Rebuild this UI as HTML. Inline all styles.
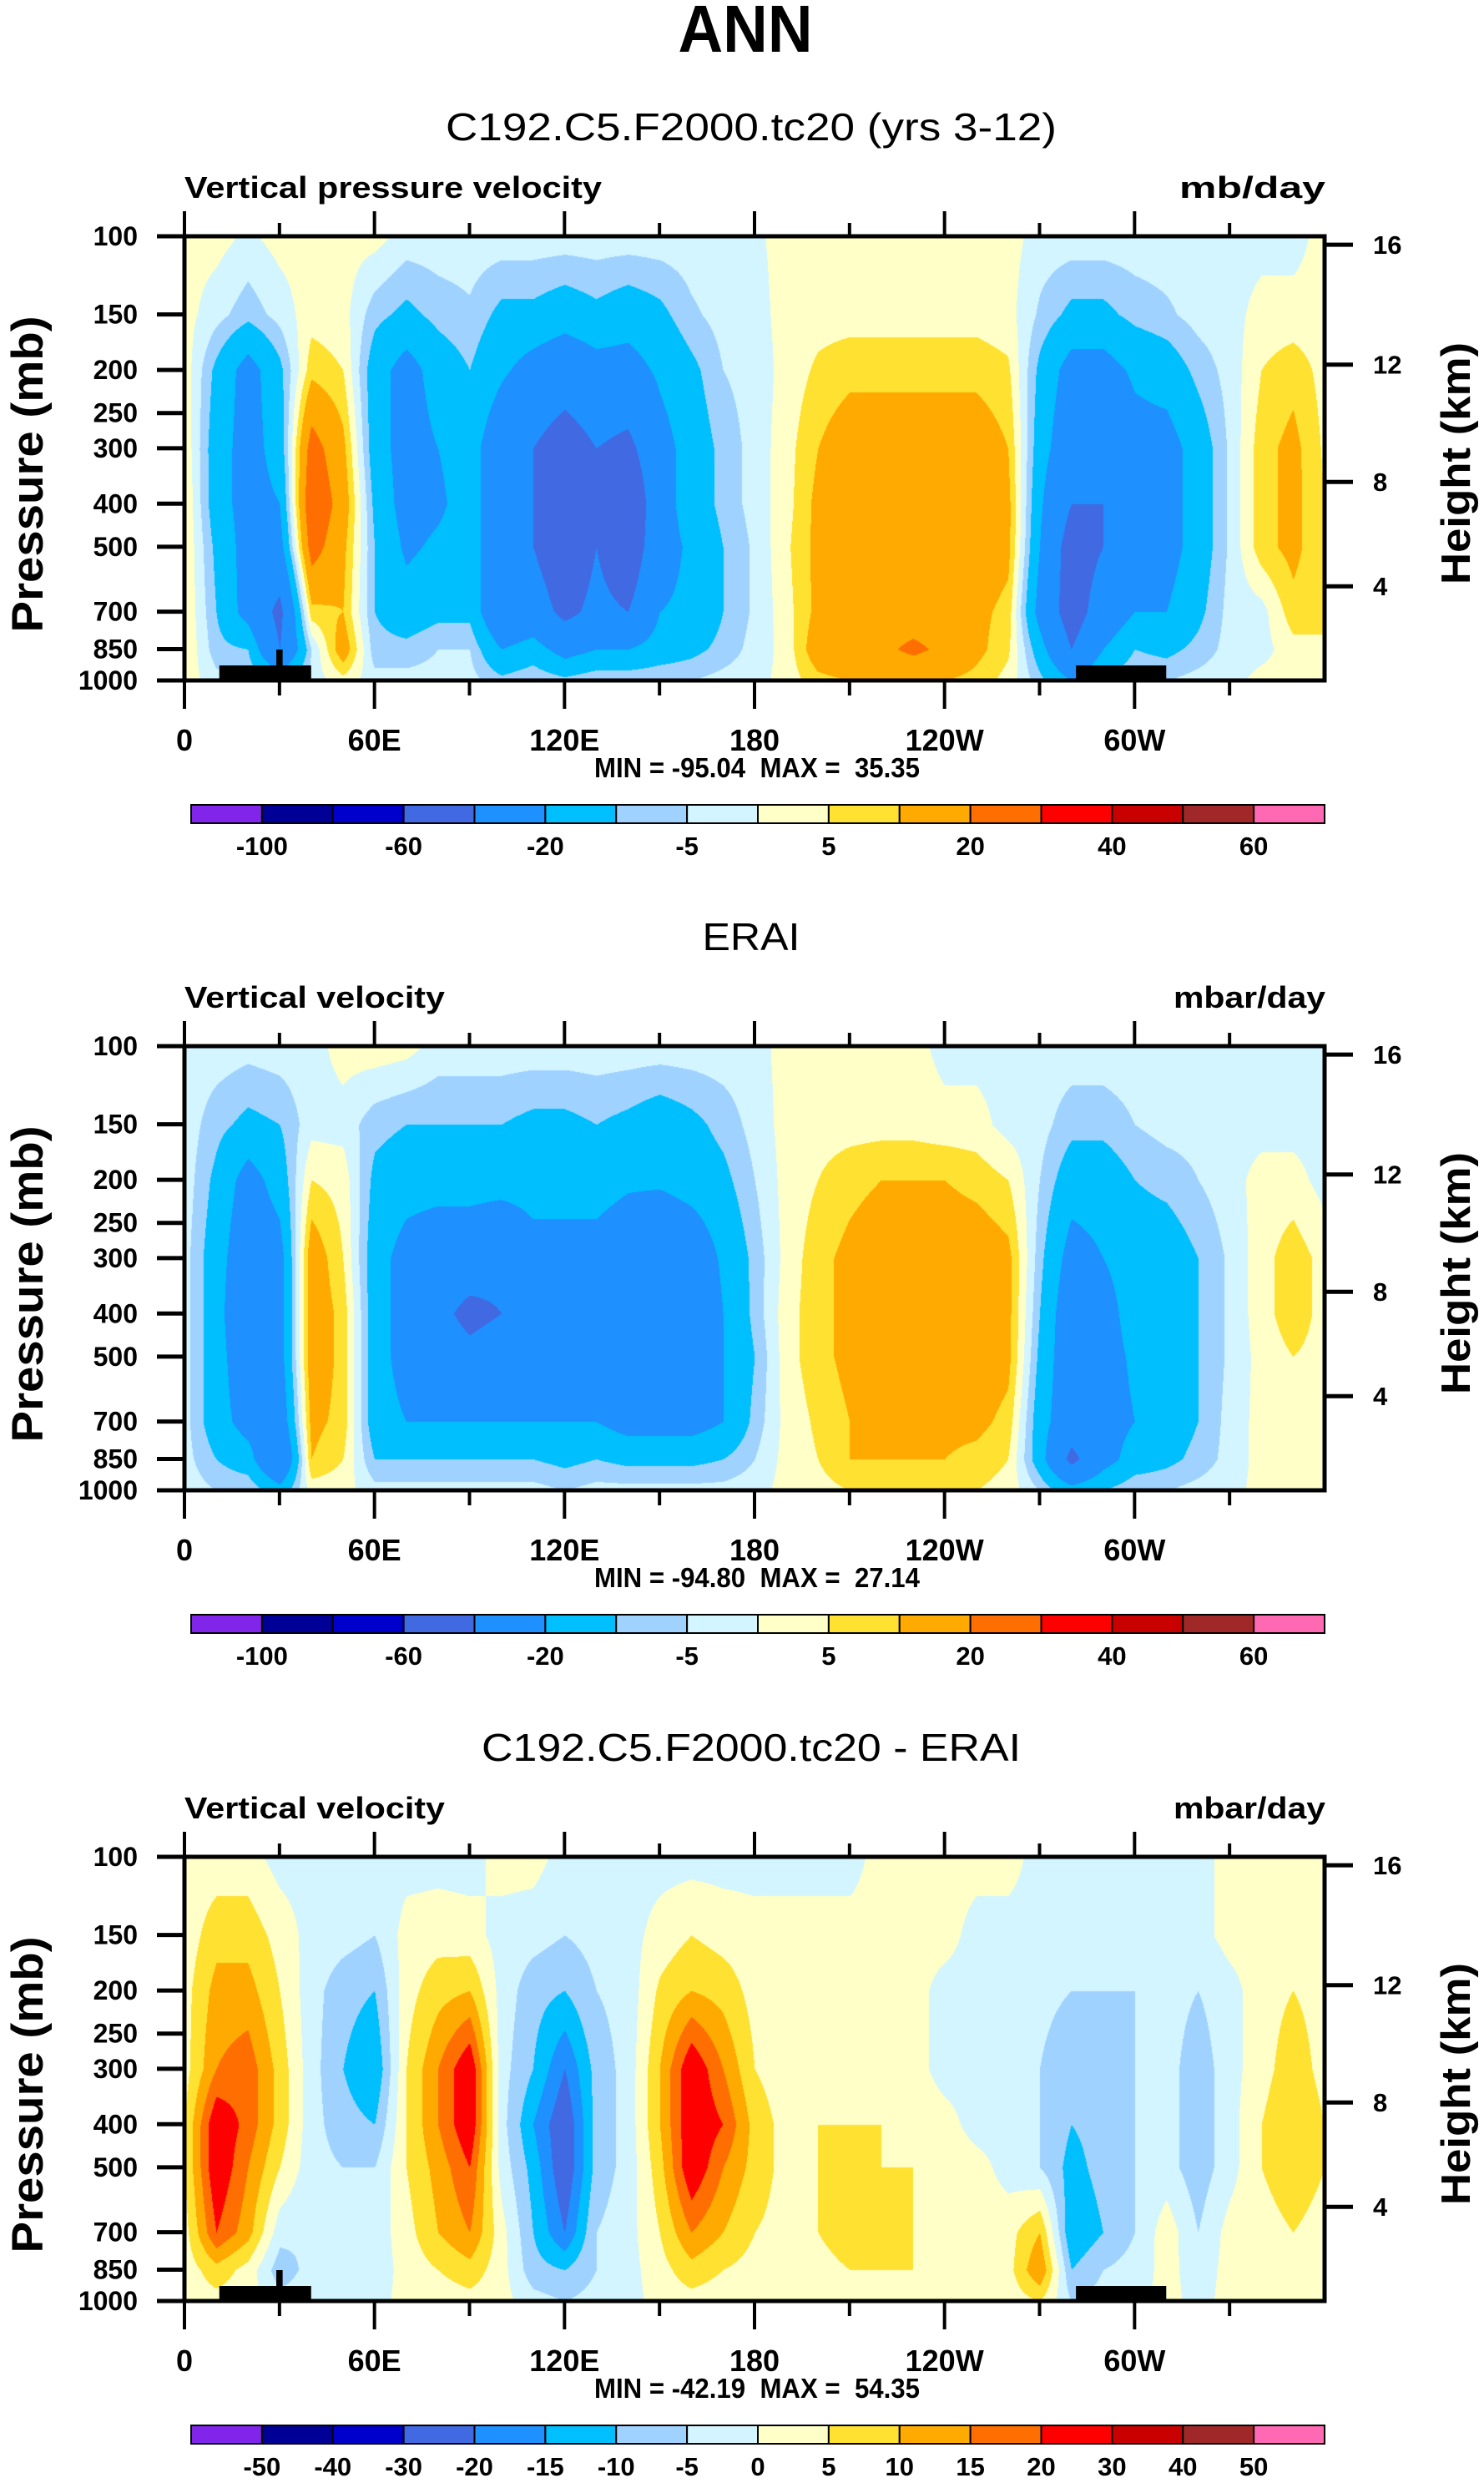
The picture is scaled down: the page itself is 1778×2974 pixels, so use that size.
<!DOCTYPE html>
<html><head><meta charset="utf-8">
<style>
html,body{margin:0;padding:0;background:#fff;}
#wrap{position:relative;width:1778px;height:2974px;overflow:hidden;background:#fff;}
canvas{position:absolute;}
svg{position:absolute;left:0;top:0;}
text{font-family:"Liberation Sans",sans-serif;fill:#000;white-space:pre;}
</style></head>
<body>
<div id="wrap">
<canvas id="c0" width="1366" height="532" style="left:221px;top:283px"></canvas>
<canvas id="c1" width="1366" height="532" style="left:221px;top:1253px"></canvas>
<canvas id="c2" width="1366" height="532" style="left:221px;top:2224px"></canvas>
<svg id="s" width="1778" height="2974" xmlns="http://www.w3.org/2000/svg"></svg>
</div>
<script>
// ---- data ----
const LEVELS = [100,150,200,300,400,500,700,850,1000];
const LONS = [0,10,20,30,40,50,60,70,80,90,100,110,120,130,140,150,160,170,180,190,200,210,220,230,240,250,260,270,280,290,300,310,320,330,340,350,360];
const FIELD_MODEL = [
[2,2,-1,2,2,2,2,-2,-2,-2,-2,-2,-2,-2,-2,-2,-2,-2,-1,2,2,2,2,2,2,2,2,-2,-2,-2,-2,-2,-2,-2,-2,-2,2],
[2,-3,-8,-3,3,2,-8,-12,-8,-6,-12,-12,-15,-12,-15,-12,-6,-3,-2,2,3,3,3,3,3,3,2,-6,-12,-12,-8,-6,-3,-2,2,2,2],
[3,-12,-25,-12,8,5,-15,-25,-15,-10,-18,-25,-30,-25,-25,-18,-12,-5,-3,2,6,8,8,8,8,8,6,-12,-25,-25,-18,-15,-8,-3,5,8,3],
[4,-15,-25,-15,25,12,-15,-25,-20,-15,-30,-40,-50,-40,-45,-25,-15,-8,-3,3,10,15,15,15,15,15,10,-15,-30,-35,-25,-25,-15,-4,8,12,4],
[5,-15,-25,-20,30,15,-12,-25,-22,-15,-30,-40,-55,-40,-60,-25,-15,-8,-3,3,12,15,15,15,15,15,12,-18,-40,-40,-25,-25,-15,-4,8,12,5],
[5,-12,-25,-25,25,12,-10,-22,-18,-15,-30,-40,-55,-40,-55,-25,-18,-10,-4,4,12,15,15,15,15,15,12,-20,-50,-40,-25,-25,-15,-4,8,12,5],
[5,-10,-25,-45,8,10,-10,-15,-12,-12,-35,-30,-45,-35,-40,-20,-18,-10,-4,3,12,15,15,15,15,12,8,-25,-50,-30,-20,-20,-12,-3,-2,8,5],
[5,-8,-10,-40,-5,15,-8,-8,-5,-5,-20,-15,-25,-20,-20,-15,-12,-8,-3,2,15,18,18,22,18,12,6,-15,-40,-20,-10,-12,-8,-3,-2,3,5],
[3,-3,-5,-10,-3,3,-3,-3,-3,-3,-8,-5,-8,-5,-5,-5,-5,-3,-2,2,8,10,10,12,10,8,3,-8,-20,-8,-5,-5,-3,-2,2,2,3]];
const FIELD_ERAI = [
[-2,-2,-3,-2,-2,2,3,2,-2,-2,-2,-2,-2,-2,-2,-2,-2,-2,-2,2,3,3,3,2,-2,-2,-2,-2,-2,-2,-2,-2,-2,-2,-2,-2,-2],
[-2,-8,-12,-10,-2,-2,-8,-10,-10,-10,-10,-12,-12,-10,-12,-15,-12,-8,-3,2,3,3,3,3,2,2,-2,-3,-8,-8,-5,-3,-3,-2,-2,-2,-2],
[-2,-12,-25,-15,5,3,-12,-15,-15,-15,-15,-15,-15,-15,-18,-18,-15,-12,-5,2,5,8,10,10,10,8,5,-5,-15,-15,-10,-8,-5,-2,2,2,-2],
[-3,-15,-30,-25,15,5,-15,-25,-30,-30,-35,-25,-25,-25,-30,-35,-30,-18,-8,2,8,12,15,15,15,15,12,-8,-25,-20,-15,-15,-10,-4,3,8,3],
[-3,-15,-35,-25,15,8,-15,-25,-35,-45,-40,-25,-25,-30,-35,-40,-35,-20,-8,3,8,12,15,15,15,15,12,-10,-30,-25,-15,-15,-10,-4,3,8,3],
[-3,-15,-30,-25,15,8,-15,-25,-30,-35,-30,-25,-25,-30,-35,-40,-30,-20,-10,3,8,12,15,15,15,15,12,-12,-30,-25,-18,-15,-10,-4,2,5,3],
[-3,-15,-25,-30,12,8,-15,-20,-20,-20,-20,-20,-20,-20,-25,-25,-25,-20,-8,2,6,10,12,12,12,12,8,-15,-30,-25,-20,-15,-10,-3,2,3,2],
[-3,-10,-15,-40,10,5,-10,-10,-10,-10,-10,-10,-12,-10,-12,-12,-12,-10,-5,2,5,10,10,10,10,8,5,-15,-45,-25,-15,-12,-8,-3,2,3,2],
[-2,-5,-5,-15,2,2,-3,-3,-3,-3,-3,-3,-5,-3,-3,-3,-3,-3,-2,2,3,5,5,5,5,5,3,-5,-15,-10,-5,-5,-3,-2,2,2,2]];
const FIELD_DIFF = [
[2,2,2,-2,-2,-2,-2,-2,-2,-2,2,2,-2,-2,-2,-2,-2,-2,-2,-2,-2,-2,2,2,2,2,2,-2,-2,-2,-2,-2,-2,2,2,2,2],
[2,8,8,3,-2,-3,-5,2,3,2,-2,-3,-5,-3,-2,2,5,3,2,2,2,2,2,2,2,-2,-2,-2,-3,-3,-3,-2,-2,2,2,2,2],
[3,12,12,5,-3,-8,-10,3,8,10,-2,-8,-10,-5,-3,6,10,8,3,2,2,2,2,2,-2,-2,-2,-3,-5,-5,-5,-3,-5,-2,3,5,3],
[3,15,18,8,-3,-10,-15,5,15,25,-3,-10,-20,-8,-3,10,25,15,5,2,3,3,3,2,-2,-2,-3,-5,-10,-8,-5,-3,-8,-2,3,8,3],
[5,25,18,8,-3,-8,-10,5,15,25,-3,-15,-25,-8,-3,10,25,20,8,3,5,5,5,3,2,-2,-2,-5,-10,-8,-5,-3,-8,-2,5,10,5],
[5,25,15,5,-3,-5,-5,5,12,20,-2,-12,-25,-8,-3,8,25,15,8,3,5,5,5,5,3,2,-2,-5,-12,-8,-5,-3,-8,-2,5,8,5],
[3,20,12,-3,-5,-3,-3,3,10,15,2,-10,-20,-5,-2,5,15,10,5,3,5,8,8,5,5,3,3,10,-15,-10,-5,3,-5,2,3,5,3],
[2,8,3,-8,-3,-3,-3,2,5,8,2,-8,-10,-5,-2,3,8,5,3,2,3,5,5,5,3,3,3,15,-10,-5,-3,2,-3,2,2,3,2],
[2,3,2,-3,-2,-2,-2,2,2,3,2,-3,-5,-3,-2,2,3,2,2,2,2,3,3,3,2,2,2,5,-5,-3,-2,2,-2,2,2,2,2]];
const BOUNDS_A = [-100,-80,-60,-40,-20,-10,-5,0,5,10,20,30,40,50,60];
const BOUNDS_B = [-50,-40,-30,-20,-15,-10,-5,0,5,10,15,20,30,40,50];
const LABELS_A = ["-100","-60","-20","-5","5","20","40","60"];
const LABEL_IDX_A = [0,2,4,6,8,10,12,14];
const LABELS_B = ["-50","-40","-30","-20","-15","-10","-5","0","5","10","15","20","30","40","50"];
const COLORS = ["#8225ea","#000096","#0000cd","#4169e1","#1e90ff","#00bfff","#a0d2ff","#d2f5ff","#ffffc8","#ffe132","#ffaa00","#ff6e00","#ff0000","#c80000","#a02828","#ff69b4"];
const P_TICKS = [100,150,200,250,300,400,500,700,850,1000];
const H_TICKS = ["16","12","8","4"];
const H_FRAC = [0.019,0.289,0.553,0.788];
const X_TICKS = [0,60,120,180,240,300];
const X_LABELS = ["0","60E","120E","180","120W","60W"];
const TOPO_A = [[11,40],[281.5,310]];
const TOPO_SPIKE = [29,31];

// ---- geometry ----
const PL=221, PW=1366, PH=532;
const TOPS=[283,1253,2224];
const OFF=[0,970,1941];
const xOf = lon => PL + lon/360*PW;
const yOf = (p,top) => top + Math.log10(p/100)*PH;

function colorIdx(v,b){let i=0;while(i<b.length&&v>=b[i])i++;return i;}
function hex(c){return [parseInt(c.substr(1,2),16),parseInt(c.substr(3,2),16),parseInt(c.substr(5,2),16)];}
const RGB = COLORS.map(hex);

function drawField(id, F, B){
  const cv=document.getElementById(id), ctx=cv.getContext('2d');
  const img=ctx.createImageData(PW,PH), d=img.data;
  const lp=LEVELS.map(p=>Math.log10(p));
  for(let y=0;y<PH;y++){
    const l=2+y/PH; let k=0; while(k<lp.length-2 && l>lp[k+1]) k++;
    const t=Math.min(1,Math.max(0,(l-lp[k])/(lp[k+1]-lp[k])));
    for(let x=0;x<PW;x++){
      const lon=x/PW*360; let i=Math.min(LONS.length-2,Math.floor(lon/10)); const s=(lon-LONS[i])/10;
      const a=F[k][i]*(1-s)+F[k][i+1]*s, b2=F[k+1][i]*(1-s)+F[k+1][i+1]*s;
      const v=a*(1-t)+b2*t;
      const c=RGB[colorIdx(v,B)]; const o=(y*PW+x)*4;
      d[o]=c[0];d[o+1]=c[1];d[o+2]=c[2];d[o+3]=255;
    }
  }
  ctx.putImageData(img,0,0);
}
drawField('c0',FIELD_MODEL,BOUNDS_A);
drawField('c1',FIELD_ERAI,BOUNDS_A);
drawField('c2',FIELD_DIFF,BOUNDS_B);

const S=document.getElementById('s'), NS='http://www.w3.org/2000/svg';
function el(tag,attrs,txt){const e=document.createElementNS(NS,tag);for(const k in attrs)e.setAttribute(k,attrs[k]);if(txt!==undefined)e.textContent=txt;S.appendChild(e);return e;}
function line(x1,y1,x2,y2,w,name){const e=el('line',{x1,y1,x2,y2,stroke:'#000','stroke-width':w});


return e;}
function txt(x,y,s,size,opts,name){const a=Object.assign({x,y,'font-size':size},opts||{});const e=el('text',a,s);


return e;}

txt(893,62,"ANN",80,{'font-weight':'bold','text-anchor':'middle',textLength:161,lengthAdjust:'spacingAndGlyphs'},'main-title');

const TITLES=["C192.C5.F2000.tc20 (yrs 3-12)","ERAI","C192.C5.F2000.tc20 - ERAI"];
const TITLE_W=[732,117,646];
const SUBL=["Vertical pressure velocity","Vertical velocity","Vertical velocity"];
const SUBL_W=[500,312,312];
const SUBR=["mb/day","mbar/day","mbar/day"];
const SUBR_W=[175,182,182];
const MINMAX=["MIN = -95.04  MAX =  35.35","MIN = -94.80  MAX =  27.14","MIN = -42.19  MAX =  54.35"];

for(let p=0;p<3;p++){
  const o=OFF[p], top=TOPS[p], bot=top+PH;
  txt(900,168+o,TITLES[p],46,{'text-anchor':'middle',textLength:TITLE_W[p],lengthAdjust:'spacingAndGlyphs'},'panel-title');
  txt(221,237+o,SUBL[p],36,{'font-weight':'bold',textLength:SUBL_W[p],lengthAdjust:'spacingAndGlyphs'},'variable-label');
  txt(1588,237+o,SUBR[p],36,{'font-weight':'bold','text-anchor':'end',textLength:SUBR_W[p],lengthAdjust:'spacingAndGlyphs'},'units-label');
  if(p!==1){
    for(const r of TOPO_A){
      const b=el('rect',{x:xOf(r[0]),y:bot-18,width:xOf(r[1])-xOf(r[0]),height:18,fill:'#000'});
      
      
    }
    const sp=el('rect',{x:xOf(TOPO_SPIKE[0]),y:bot-37,width:xOf(TOPO_SPIKE[1])-xOf(TOPO_SPIKE[0]),height:37,fill:'#000'});
    
    
  }
  const fr=el('rect',{x:221,y:top,width:PW,height:PH,fill:'none',stroke:'#000','stroke-width':5});
  
  
  for(const pv of P_TICKS){
    const y=yOf(pv,top);
    line(188,y,221,y,5,'y-tick');
    txt(165,y+11,String(pv),32,{'font-weight':'bold','text-anchor':'end'},'y-tick-label');
  }
  txt(0,0,"Pressure (mb)",53,{'font-weight':'bold','text-anchor':'middle',textLength:379,lengthAdjust:'spacingAndGlyphs',transform:`translate(51,${top+285}) rotate(-90)`},'y-axis-title');
  for(let i=0;i<H_TICKS.length;i++){
    const y=top+H_FRAC[i]*PH;
    line(1588,y,1621,y,5,'height-tick');
    txt(1645,y+11,H_TICKS[i],31,{'font-weight':'bold'},'height-tick-label');
  }
  txt(0,0,"Height (km)",49,{'font-weight':'bold','text-anchor':'middle',textLength:290,lengthAdjust:'spacingAndGlyphs',transform:`translate(1761,${top+272}) rotate(-90)`},'height-axis-title');
  for(let lon=0;lon<360;lon+=30){
    const x=xOf(lon), maj=lon%60===0;
    line(x,top,x,top-(maj?30:16),4,'x-tick-top');
    line(x,bot,x,bot+(maj?34:18),4,'x-tick-bottom');
  }
  for(let i=0;i<X_TICKS.length;i++){
    txt(xOf(X_TICKS[i]),899+o,X_LABELS[i],36,{'font-weight':'bold','text-anchor':'middle'},'x-tick-label');
  }
  txt(907,931+o,MINMAX[p],33,{'font-weight':'bold','text-anchor':'middle',textLength:390,lengthAdjust:'spacingAndGlyphs'},'min-max-label');
  const cx0=229,cw=(1587-229)/16,cy=964+o;
  for(let i=0;i<16;i++){
    const r=el('rect',{x:cx0+i*cw,y:cy,width:cw,height:22,fill:COLORS[i],stroke:'#000','stroke-width':2});
    
    
  }
  if(p===2){
    for(let i=0;i<LABELS_B.length;i++) txt(cx0+(i+1)*cw,1024+o,LABELS_B[i],31,{'font-weight':'bold','text-anchor':'middle'},'colorbar-label');
  } else {
    for(let i=0;i<LABELS_A.length;i++) txt(cx0+(LABEL_IDX_A[i]+1)*cw,1024+o,LABELS_A[i],31,{'font-weight':'bold','text-anchor':'middle'},'colorbar-label');
  }
}
</script>
</body></html>
